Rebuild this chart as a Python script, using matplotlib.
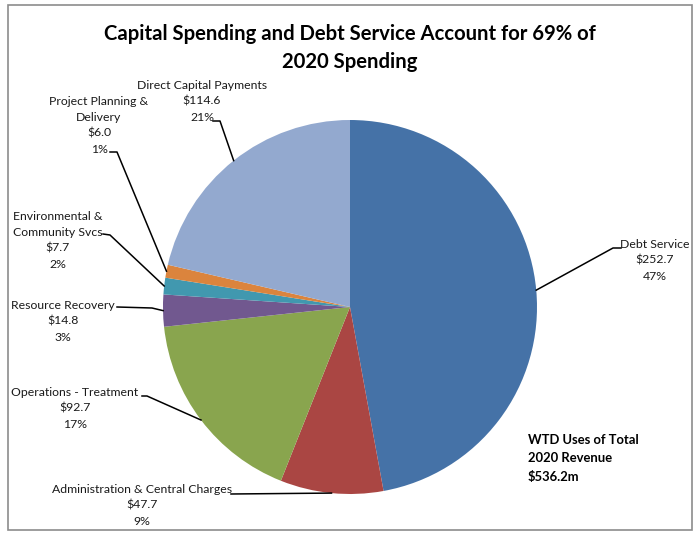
import numpy as np
import matplotlib
matplotlib.use('Agg')
from matplotlib import pyplot as plt
from matplotlib.patches import Rectangle

# Data ($ millions)
categories = ['Debt Service', 'Administration & Central Charges', 'Operations - Treatment',
              'Resource Recovery', 'Environmental &\nCommunity Svcs',
              'Project Planning &\nDelivery', 'Direct Capital Payments']
values = [252.7, 47.7, 92.7, 14.8, 7.7, 6.0, 114.6]
percents = [47, 9, 17, 3, 2, 1, 21]
colors = ['#4572A7', '#AA4643', '#89A54E', '#71588F', '#4198AF', '#DB843D', '#93A9CF']

# label placement in pixels (center x, first line y), leader anchor and stub end
label_pos = [(655, 244), (142, 489), (75, 392), (63, 305), (58, 216), (99, 101), (202, 85)]
leader_start = [(621, 248), (231, 494), (142, 396), (117, 307), (103, 234), (110, 152), (213, 121)]
leader_stub = [(613, 248), (231, 494), (147, 396), (152, 308), (110, 235), (117, 152), (220, 121)]

plt.rcParams['font.family'] = ['Lato', 'DejaVu Sans']

W, H = 700, 543
fig = plt.figure(figsize=(W / 100, H / 100), dpi=100)

# pie axes: center (350, 307) px, radius 187 px
cx, cy, r = 350, 307, 187
ax = fig.add_axes([(cx - r) / W, (H - cy - r) / H, 2 * r / W, 2 * r / H])
wedges, _ = ax.pie(values, colors=colors, startangle=90, counterclock=False,
                   radius=1, wedgeprops=dict(linewidth=0))
ax.set_xlim(-1, 1)
ax.set_ylim(-1, 1)
ax.axis('off')

# overlay axes in pixel coordinates
ov = fig.add_axes([0, 0, 1, 1], facecolor='none')
ov.set_xlim(0, W)
ov.set_ylim(H, 0)
ov.axis('off')

ov.add_patch(Rectangle((8, 5), 684, 525, fill=False, edgecolor='#8c8c8c', linewidth=1.2))

ov.text(350, 48, 'Capital Spending and Debt Service Account for 69% of\n2020 Spending',
        ha='center', va='center', fontsize=14.6, fontweight='bold', linespacing=1.5)

for i, w in enumerate(wedges):
    theta = np.deg2rad((w.theta1 + w.theta2) / 2)
    disp = ax.transData.transform((np.cos(theta), np.sin(theta)))
    ex, ey = ov.transData.inverted().transform(disp)
    lx, ly = label_pos[i]
    txt = f'{categories[i]}\n${values[i]:.1f}\n{percents[i]}%'
    ov.text(lx, ly - 5, txt, ha='center', va='top', fontsize=8.8, linespacing=1.55,
            color='#1a1a1a', multialignment='center')
    sx, sy = leader_start[i]
    mx, my = leader_stub[i]
    ov.plot([sx, mx, ex], [sy, my, ey], color='black', linewidth=1.1)

ov.text(528, 434, 'WTD Uses of Total\n2020 Revenue\n$536.2m', ha='left', va='top',
        fontsize=9.4, fontweight='bold', linespacing=1.65)

fig.savefig('out.png', dpi=100)
